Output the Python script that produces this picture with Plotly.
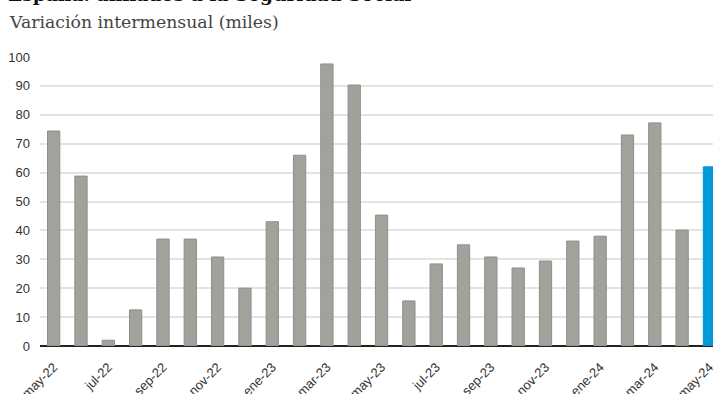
import plotly.graph_objects as go

months = ["may-22","jun-22","jul-22","ago-22","sep-22","oct-22","nov-22","dic-22",
          "ene-23","feb-23","mar-23","abr-23","may-23","jun-23","jul-23","ago-23",
          "sep-23","oct-23","nov-23","dic-23","ene-24","feb-24","mar-24","abr-24","may-24"]
values = [74.4, 58.8, 2.0, 12.5, 37.0, 37.0, 30.8, 20.0, 43.0, 66.0, 97.6, 90.3, 45.3,
          15.6, 28.4, 35.0, 30.8, 27.0, 29.4, 36.3, 38.0, 73.0, 77.2, 40.1, 62.0]
y_ticks = [0, 10, 20, 30, 40, 50, 60, 70, 80, 90, 100]

gray = "#a2a29d"
blue = "#0098d8"
colors = [gray] * (len(values) - 1) + [blue]
lines = ["#8f8f8a"] * (len(values) - 1) + [blue]

x = list(range(len(months)))

fig = go.Figure(go.Bar(
    x=x, y=values,
    marker=dict(color=colors, line=dict(color=lines, width=1)),
    hoverinfo="skip",
))

fig.update_layout(
    width=713, height=394,
    margin=dict(l=40, r=0, t=57, b=48),
    plot_bgcolor="white", paper_bgcolor="white",
    bargap=0.55,
    showlegend=False,
    font=dict(family="Liberation Sans, Arial, sans-serif", size=13, color="#333333"),
    xaxis=dict(
        range=[-0.5, 24.13],
        tickmode="array",
        tickvals=x[::2],
        ticktext=months[::2],
        tickangle=-45,
        showgrid=False,
        showline=False,
        zeroline=False,
        ticks="",
        automargin=False,
        ticklabelstandoff=10,
        ticklabeloverflow="allow",
        tickfont=dict(size=13, color="#333333"),
    ),
    yaxis=dict(
        range=[0, 100],
        tickmode="array",
        tickvals=y_ticks,
        showgrid=True,
        gridcolor="#e3e3e3",
        gridwidth=1.5,
        zeroline=True,
        zerolinecolor="#222222",
        zerolinewidth=1.5,
        showline=False,
        ticks="",
        automargin=False,
        ticklabelstandoff=9,
        tickfont=dict(size=13, color="#333333"),
    ),
    annotations=[
        dict(text="<b>España: afiliados a la Seguridad Social</b>",
             xref="paper", yref="paper", x=-40/673 + 6/673, y=1 + 50/289,
             xanchor="left", yanchor="bottom", showarrow=False,
             font=dict(family="DejaVu Serif, serif", size=18.6, color="#111111")),
        dict(text="Variación intermensual (miles)",
             xref="paper", yref="paper", x=-40/673 + 7/673, y=1 + 23/289,
             xanchor="left", yanchor="bottom", showarrow=False,
             font=dict(family="DejaVu Serif, serif", size=17.3, color="#444444")),
    ],
)

fig.write_html("out.html")
